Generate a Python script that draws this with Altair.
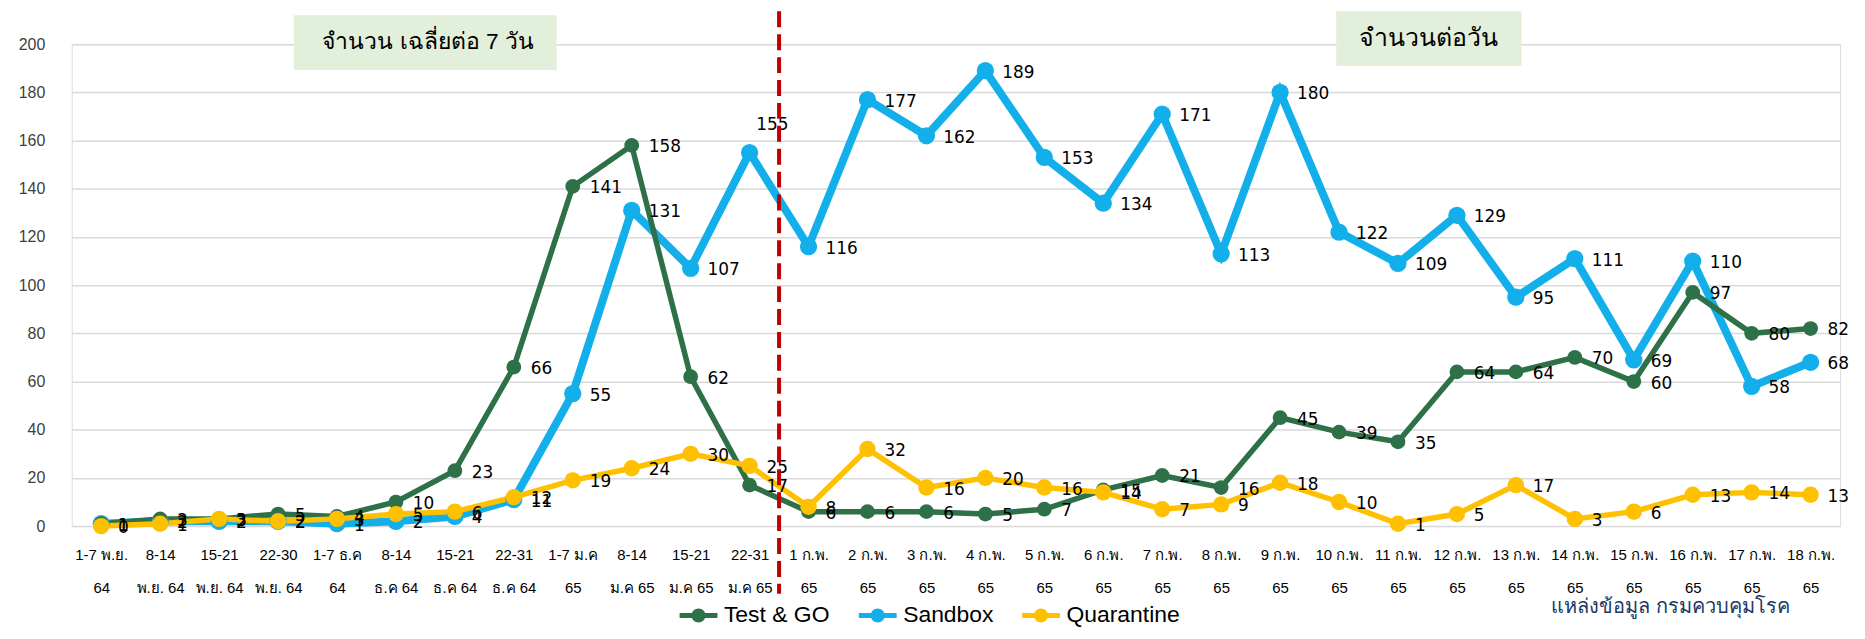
import altair as alt
import pandas as pd

# ---- data ----
categories = [
    "1-7 พ.ย.|64", "8-14|พ.ย. 64", "15-21|พ.ย. 64", "22-30|พ.ย. 64",
    "1-7 ธ.ค|64", "8-14|ธ.ค 64", "15-21|ธ.ค 64", "22-31|ธ.ค 64",
    "1-7 ม.ค|65", "8-14|ม.ค 65", "15-21|ม.ค 65", "22-31|ม.ค 65",
    "1 ก.พ.|65", "2 ก.พ.|65", "3 ก.พ.|65", "4 ก.พ.|65", "5 ก.พ.|65",
    "6 ก.พ.|65", "7 ก.พ.|65", "8 ก.พ.|65", "9 ก.พ.|65", "10 ก.พ.|65",
    "11 ก.พ.|65", "12 ก.พ.|65", "13 ก.พ.|65", "14 ก.พ.|65", "15 ก.พ.|65",
    "16 ก.พ.|65", "17 ก.พ.|65", "18 ก.พ.|65",
]
test_go = [1, 3, 3, 5, 4, 10, 23, 66, 141, 158, 62, 17,
           6, 6, 6, 5, 7, 15, 21, 16, 45, 39, 35, 64, 64, 70, 60, 97, 80, 82]
sandbox = [1, 2, 2, 2, 1, 2, 4, 11, 55, 131, 107, 155,
           116, 177, 162, 189, 153, 134, 171, 113, 180, 122, 109, 129, 95, 111, 69, 110, 58, 68]
quarantine = [0, 1, 3, 2, 3, 5, 6, 12, 19, 24, 30, 25,
              8, 32, 16, 20, 16, 14, 7, 9, 18, 10, 1, 5, 17, 3, 6, 13, 14, 13]
series_names = ["Test & GO", "Sandbox", "Quarantine"]
series_colors = ["#2E7048", "#12AFEA", "#FFC000"]
box_texts = ["จำนวน เฉลี่ยต่อ 7 วัน", "จำนวนต่อวัน"]
source_text = "แหล่งข้อมูล กรมควบคุมโรค"

rows = []
for name, vals in zip(series_names, [test_go, sandbox, quarantine]):
    for c, v in zip(categories, vals):
        rows.append({"cat": c, "series": name, "value": v})
df = pd.DataFrame(rows)

W, H = 1776, 484
FONT_NUM = "DejaVu Sans"
FONT_NARROW = "Liberation Sans Narrow, Liberation Sans, Arial, sans-serif"

xenc = alt.X("cat:N", sort=categories, title=None,
             scale=alt.Scale(type="point", padding=0.5),
             axis=alt.Axis(labelAngle=0, domain=False, ticks=False,
                           labelExpr="split(datum.label, '|')",
                           labelLineHeight=33, labelPadding=22,
                           labelFontSize=15, labelFont=FONT_NARROW,
                           labelColor="#000000", labelBaseline="top"))
yenc = alt.Y("value:Q", title=None,
             scale=alt.Scale(domain=[0, 200], nice=False),
             axis=alt.Axis(values=list(range(0, 201, 20)), domain=False, ticks=False,
                           grid=True, gridColor="#D9D9D9", gridWidth=1.5,
                           labelPadding=27, labelFontSize=16, labelFont="Liberation Sans",
                           labelColor="#404040"))

color_scale = alt.Scale(domain=series_names, range=series_colors)
widths = {"Test & GO": 5.5, "Sandbox": 8, "Quarantine": 5.5}
sizes = {"Test & GO": 220, "Sandbox": 300, "Quarantine": 270}

legend_path = ("M-2,-0.26 L2,-0.26 L2,0.26 L-2,0.26 Z "
               "M0.74,0 A0.74,0.74 0 1 1 -0.74,0 A0.74,0.74 0 1 1 0.74,0 Z")

layers = []
draw_order = ["Sandbox", "Test & GO", "Quarantine"]
for name in draw_order:
    base = alt.Chart(df).transform_filter(alt.datum.series == name)
    layers.append(base.mark_line(strokeWidth=widths[name], color=series_colors[series_names.index(name)])
                  .encode(x=xenc, y=yenc))
for name in draw_order:
    base = alt.Chart(df).transform_filter(alt.datum.series == name)
    layers.append(base.mark_point(filled=True, opacity=1, size=sizes[name], strokeWidth=0)
                  .encode(x=xenc, y=yenc,
                          color=alt.Color("series:N", scale=color_scale, sort=series_names,
                                          legend=alt.Legend(
                                              title=None, orient="none", direction="horizontal",
                                              legendX=618, legendY=562,
                                              symbolType=legend_path,
                                              symbolSize=361, symbolStrokeWidth=0,
                                              labelFont="Liberation Sans", labelFontSize=23,
                                              labelColor="#000000", labelOffset=14,
                                              columnPadding=28))))

# data labels
label_base = alt.Chart(df)
normal = label_base.transform_filter(
    ~((alt.datum.series == "Sandbox") & (alt.datum.cat == "22-31|ม.ค 65")))
layers.append(normal.mark_text(align="left", baseline="middle", dx=17, dy=2,
                               font=FONT_NUM, fontSize=17, color="#000000")
              .encode(x=xenc, y=yenc, text="value:Q"))
special = label_base.transform_filter(
    (alt.datum.series == "Sandbox") & (alt.datum.cat == "22-31|ม.ค 65"))
layers.append(special.mark_text(align="center", baseline="middle", dx=23, dy=-28,
                                font=FONT_NUM, fontSize=17, color="#000000")
              .encode(x=xenc, y=yenc, text="value:Q"))

# red dashed divider between weekly and daily sections
divider = alt.Chart(pd.DataFrame({"cat": ["22-31|ม.ค 65"]})).mark_rule(
    color="#C00000", strokeWidth=4, strokeDash=[16, 7], xOffset=29.6, clip=False
).encode(x=xenc, y=alt.value(-33), y2=alt.value(552))
layers.append(divider)

# annotation boxes
boxes = pd.DataFrame({"text": box_texts})
box1 = alt.Chart(boxes.iloc[[0]]).mark_rect(color="#E2EFDA").encode(
    x=alt.value(223), x2=alt.value(487), y=alt.value(-29), y2=alt.value(26))
box1t = alt.Chart(boxes.iloc[[0]]).mark_text(font="Liberation Sans", fontSize=23,
                                               color="#000000", baseline="middle").encode(
    x=alt.value(358), y=alt.value(-2), text="text:N")
box2 = alt.Chart(boxes.iloc[[1]]).mark_rect(color="#E2EFDA").encode(
    x=alt.value(1270), x2=alt.value(1456), y=alt.value(-33), y2=alt.value(22))
box2t = alt.Chart(boxes.iloc[[1]]).mark_text(font="Liberation Sans", fontSize=25,
                                               color="#000000", baseline="middle").encode(
    x=alt.value(1363), y=alt.value(-6), text="text:N")
src = alt.Chart(pd.DataFrame({"text": [source_text]})).mark_text(
    font="Liberation Sans", fontSize=20, color="#203864", align="left", baseline="middle"
).encode(x=alt.value(1486), y=alt.value(565), text="text:N")

chart = alt.layer(box1, box2, *layers, box1t, box2t, src).properties(
    width=W, height=H,
    autosize=alt.AutoSizeParams(type="none"),
    padding={"left": 64, "top": 35, "right": 17, "bottom": 104},
).configure_view(stroke=None).configure(background="white")

chart.save("out.html", embed_options={"renderer": "svg", "actions": False})
